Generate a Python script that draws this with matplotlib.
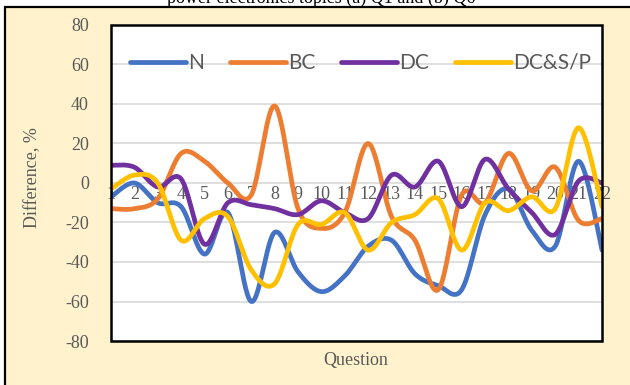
import numpy as np
import matplotlib
matplotlib.use("Agg")
import matplotlib.pyplot as plt
from matplotlib.patches import Rectangle

# Survey results: difference per question, %
questions = [str(i) for i in range(1, 23)]
n_vals = [-7, 0, -10, -12, -36, -15, -60, -25, -45, -55, -47, -32,
          -29, -46, -52, -54, -16, -3, -24, -32, 11, -34]
bc_vals = [-13, -13, -8, 15, 11, 0, -6, 39, -13, -23, -15, 20,
           -17, -29, -54, -6, -10, 15, -4, 8, -19, -18]
dc_vals = [9, 8, -2, 2, -31, -10, -11, -13, -16, -9, -15, -18,
           4, -2, 11, -12, 12, -3, -15, -26, 1, 0]
dcsp_vals = [-3, 4, 0, -29, -18, -17, -44, -51, -21, -21, -15, -34,
             -20, -16, -8, -34, -10, -14, -7, -13, 28, -12]

series_names = ["N", "BC", "DC", "DC&S/P"]
series_vals = [n_vals, bc_vals, dc_vals, dcsp_vals]
colors = ["#4472C4", "#ED7D31", "#7030A0", "#FFC000"]

yticks = [-80, -60, -40, -20, 0, 20, 40, 60, 80]


def smooth(x, y, steps=30):
    """Catmull-Rom style Bezier smoothing through every data point."""
    x = np.asarray(x, float)
    y = np.asarray(y, float)
    px = np.concatenate([[x[0]], x, [x[-1]]])
    py = np.concatenate([[y[0]], y, [y[-1]]])
    xs, ys = [], []
    t = np.linspace(0, 1, steps)
    for i in range(1, len(px) - 2):
        p0 = np.array([px[i], py[i]])
        p3 = np.array([px[i + 1], py[i + 1]])
        c1 = p0 + (np.array([px[i + 1], py[i + 1]]) - np.array([px[i - 1], py[i - 1]])) / 6
        c2 = p3 - (np.array([px[i + 2], py[i + 2]]) - np.array([px[i], py[i]])) / 6
        b = ((1 - t) ** 3)[:, None] * p0 + (3 * (1 - t) ** 2 * t)[:, None] * c1 \
            + (3 * (1 - t) * t ** 2)[:, None] * c2 + (t ** 3)[:, None] * p3
        xs.append(b[:, 0])
        ys.append(b[:, 1])
    return np.concatenate(xs), np.concatenate(ys)


fig = plt.figure(figsize=(6.3, 3.85), dpi=100)
fig.patch.set_facecolor("white")

# cream chart area with black frame
fig.patches.append(Rectangle((5 / 630, -0.2), 1.2, 1.2 - 7 / 385,
                             transform=fig.transFigure, facecolor="#FFF2CC",
                             edgecolor="black", linewidth=1.6, zorder=-5))

fig.text(0.51, 1 - 2.5 / 385, "power electronics topics (a) Q1 and (b) Q6",
         ha="center", va="baseline", fontsize=13, family="Liberation Serif",
         color="black")

ax = fig.add_axes([111 / 630, 1 - 341 / 385, 491 / 630, 316 / 385])
ax.set_facecolor("white")

x = np.arange(1, len(questions) + 1)
for name, vals, col in zip(series_names, series_vals, colors):
    sx, sy = smooth(x, vals)
    ax.plot(sx, sy, color=col, linewidth=3.4, solid_capstyle="round",
            label=name, zorder=3)

ax.set_xlim(1, len(questions))
ax.set_ylim(-80, 80)
ax.set_yticks(yticks)
ax.set_yticklabels([str(v) for v in yticks])
ax.yaxis.grid(True, color="#D9D9D9", linewidth=1.2, zorder=1)
ax.set_axisbelow(True)

ax.set_xticks(x)
ax.set_xticklabels(questions)
ax.spines["bottom"].set_position(("data", 0))
for s in ax.spines.values():
    s.set_color("none")
ax.add_patch(Rectangle((0, 0), 1, 1, transform=ax.transAxes, fill=False,
                       edgecolor="black", linewidth=1.8, clip_on=False, zorder=5))

ax.tick_params(axis="x", length=0, pad=2, labelsize=13, labelcolor="#595959")
ax.tick_params(axis="y", length=0, pad=16, labelsize=13, labelcolor="#595959")
for lbl in ax.get_xticklabels() + ax.get_yticklabels():
    lbl.set_family("Liberation Serif")

fig.text(33 / 630, 1 - 178 / 385, "Difference, %", rotation=90, ha="center",
         va="center", fontsize=13, family="Liberation Serif", color="#595959")
fig.text(356 / 630, 1 - 360 / 385, "Question", ha="center", va="center",
         fontsize=13, family="Liberation Serif", color="#595959")

leg = ax.legend(loc="center left", bbox_to_anchor=((130 - 111) / 491, 1 - (63 - 25) / 316),
                ncol=4, frameon=False, prop={"family": "Lato", "size": 15},
                handlelength=2.7, handletextpad=0.08, columnspacing=1.25,
                borderpad=0, borderaxespad=0)
for t in leg.get_texts():
    t.set_color("#595959")

fig.savefig("out.png", dpi=100)
